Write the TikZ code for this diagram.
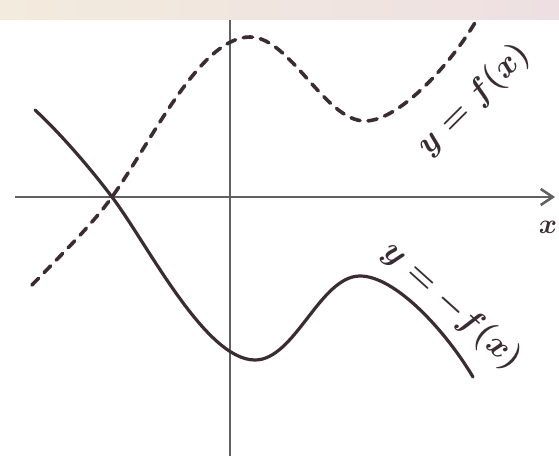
\documentclass[tikz,border=0pt]{standalone}
\usetikzlibrary{arrows.meta}
\definecolor{bandL}{HTML}{F3EBDD}
\definecolor{bandR}{HTML}{EEE0E2}
\definecolor{curve}{HTML}{3B2C33}
\definecolor{axisc}{HTML}{606060}
\tikzset{
  axisline/.style={draw=axisc, line width=1.9pt},
  graphline/.style={draw=curve, line width=2.4pt, line cap=round, line join=round},
  dashedgraph/.style={graphline, line width=2.7pt, dash pattern=on 7pt off 6pt},
  curvelabel/.style={text=curve, font=\fontsize{23}{25}\selectfont\boldmath, inner sep=0pt}
}
\begin{document}
\begin{tikzpicture}[x=0.75pt,y=-0.75pt]
\useasboundingbox (0,0) rectangle (559,456);
\fill[white] (0,0) rectangle (559,456);
% axes
\draw[axisline] (230,20) -- (230,456);
\draw[axisline, -{Straight Barb[length=9pt,width=12pt,line width=1.9pt]}] (15,197) -- (555,197);
\node[curvelabel, font=\fontsize{20}{22}\selectfont\boldmath] (xl) at (548,227) {$x$};
% y = f(x) dashed
\draw[dashedgraph] (32,285) .. controls (58,258) and (92,225) .. (112,197)
  .. controls (152,141) and (200,37) .. (250,37)
  .. controls (290,37) and (325,121) .. (365,121)
  .. controls (400,121) and (455,60) .. (480,14);
% y = -f(x) solid
\draw[graphline] (35,110) .. controls (60,133) and (91,169) .. (112,197)
  .. controls (147,243) and (205,360) .. (255,360)
  .. controls (295,360) and (320,276) .. (360,276)
  .. controls (395,276) and (445,330) .. (473,377);
% labels
\node[curvelabel, rotate=45] (fl) at (474,100) {$y = f(x)$};
\node[curvelabel, rotate=-42] (gl) at (452,306) {$y = -f(x)$};
% top band
\shade[left color=bandL, right color=bandR] (0,0) rectangle (559,20);
\end{tikzpicture}
\end{document}
